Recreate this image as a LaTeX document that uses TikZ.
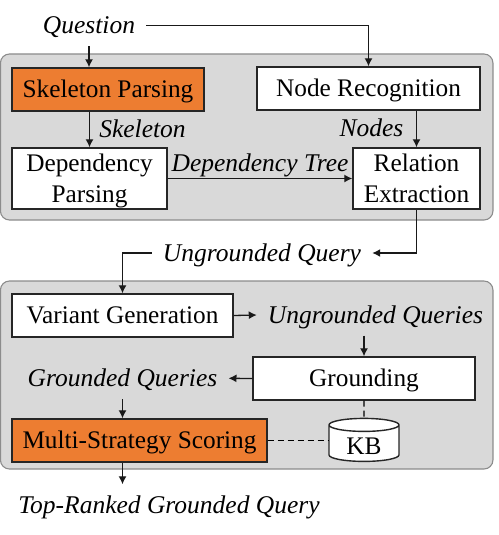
\documentclass[tikz,border=0pt]{standalone}
\usepackage{fontspec}
\setmainfont{Liberation Serif}
\usetikzlibrary{arrows.meta, shapes.geometric}
\definecolor{panelgray}{HTML}{D9D9D9}
\definecolor{paneledge}{HTML}{8C8C8C}
\definecolor{boxorange}{HTML}{ED7D31}

\begin{document}
\begin{tikzpicture}[
    x=1pt, y=-1pt,
    >={Latex[length=8pt,width=8pt]}, % Set default arrow tip style
    panel/.style={draw=paneledge, fill=panelgray, line width=1.1pt, rounded corners=9pt, inner sep=0pt}, % Style for the gray panels
    box/.style={draw=black!85, fill=white, line width=1.4pt, inner sep=0pt, align=center, text depth=5pt, text height=20.5pt, font=\fontsize{25.3}{31}\selectfont}, % Style for the steps
    tallbox/.style={box, text height=52pt}, % Style for the two line steps
    hot/.style={box, fill=boxorange}, % Style for the new steps
    data/.style={inner xsep=11pt, inner ysep=7pt, text depth=5pt, text height=22pt, font=\fontsize{25.5}{31}\selectfont\itshape}, % Style for the data labels
    flow/.style={->, line width=1.3pt, draw=black!90}, % Style for the arrows
    link/.style={dashed, dash pattern=on 6pt off 4pt, line width=1.2pt} % Style for the KB links
]

    \useasboundingbox (0,0) rectangle (498,535);

    % Panels
    \node[panel, minimum width=492.5pt, minimum height=166pt] (parsePanel) at (246.7,137) {};
    \node[panel, minimum width=492.5pt, minimum height=188pt] (queryPanel) at (246.7,375) {};

    % Upper steps
    \node[hot, minimum width=192pt, minimum height=43pt] (skeleton) at (108,89.5) {Skeleton Parsing};
    \node[box, minimum width=223pt, minimum height=43pt] (recognition) at (368.5,88.5) {Node Recognition};
    \node[tallbox, minimum width=155pt, minimum height=61pt] (dependency) at (89.5,178.5) {Dependency\\Parsing};
    \node[tallbox, minimum width=127pt, minimum height=61pt] (relation) at (416.5,178.5) {Relation\\Extraction};

    % Lower steps
    \node[box, minimum width=221pt, minimum height=43pt] (variant) at (122.5,315.5) {Variant Generation};
    \node[box, minimum width=222pt, minimum height=43pt] (grounding) at (364,378.5) {Grounding};
    \node[hot, minimum width=255pt, minimum height=43pt] (scoring) at (139.5,440.5) {Multi-Strategy Scoring};
    \node[cylinder, shape border rotate=90, aspect=0.37, draw=black!85, fill=white, line width=1.4pt,
          minimum width=70pt, minimum height=43pt, inner sep=0pt, text height=22pt, font=\fontsize{25.3}{31}\selectfont] (kb) at (364,443.5) {KB};

    % Data labels
    \node[data] (question) at (89,25.5) {Question};
    \node[data, inner sep=0pt] (skeletonText) at (142.5,129) {Skeleton};
    \node[data, inner sep=0pt] (nodesText) at (371.5,127.7) {Nodes};
    \node[data, inner sep=0pt] (treeText) at (260,162.7) {Dependency Tree};
    \node[data] (ungrounded) at (262,253) {Ungrounded Query};
    \node[data] (variants) at (375.5,315) {Ungrounded Queries};
    \node[data] (grounded) at (122.5,378.3) {Grounded Queries};
    \node[data] (top) at (169,505) {Top-Ranked Grounded Query};

    % Question into the first panel
    \draw[flow] (question.south) -- (question.south |- skeleton.north);
    \draw[flow] (question.east) -| (recognition.north);

    % Upper panel
    \draw[flow] (dependency.north |- skeleton.south) -- (dependency.north);
    \draw[flow] (relation.north |- recognition.south) -- (relation.north);
    \draw[flow] (dependency.east) -- (relation.west);

    % Between the panels
    \draw[flow] (relation.south) |- (ungrounded.east);
    \draw[flow] (ungrounded.west) -| (variant.north);

    % Lower panel
    \draw[flow] (variant.east) -- (variants.west);
    \draw[flow] (grounding.north |- variants.south) -- (grounding.north);
    \draw[flow] (grounding.west) -- (grounded.east);
    \draw[flow] (grounded.south) -- (grounded.south |- scoring.north);
    \draw[flow] (grounded.south |- scoring.south) -- (grounded.south |- top.north);

    % KB links
    \draw[link] (grounding.south) -- (kb.north);
    \draw[link] (scoring.east) -- (scoring.east -| kb.west);

\end{tikzpicture}
\end{document}
